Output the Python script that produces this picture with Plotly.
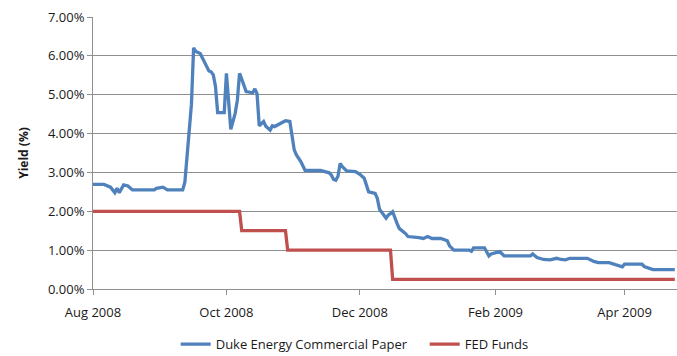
import plotly.graph_objects as go

# ---------------- data ----------------
duke_dates = [
    "2008-08-01", "2008-08-06", "2008-08-09", "2008-08-11", "2008-08-12", "2008-08-13",
    "2008-08-15", "2008-08-17", "2008-08-19", "2008-08-29", "2008-08-30", "2008-09-02",
    "2008-09-04", "2008-09-11", "2008-09-12", "2008-09-14", "2008-09-15", "2008-09-16",
    "2008-09-17", "2008-09-19", "2008-09-21", "2008-09-23", "2008-09-24", "2008-09-25",
    "2008-09-26", "2008-09-27", "2008-09-30", "2008-10-01", "2008-10-03", "2008-10-05",
    "2008-10-06", "2008-10-07", "2008-10-08", "2008-10-10", "2008-10-13", "2008-10-14",
    "2008-10-15", "2008-10-16", "2008-10-18", "2008-10-19", "2008-10-21", "2008-10-22",
    "2008-10-23", "2008-10-25", "2008-10-28", "2008-10-30", "2008-11-01", "2008-11-02",
    "2008-11-04", "2008-11-06", "2008-11-13", "2008-11-17", "2008-11-18", "2008-11-19",
    "2008-11-20", "2008-11-21", "2008-11-22", "2008-11-23", "2008-11-25", "2008-11-29",
    "2008-12-01", "2008-12-03", "2008-12-04", "2008-12-05", "2008-12-08", "2008-12-09",
    "2008-12-10", "2008-12-11", "2008-12-13", "2008-12-14", "2008-12-16", "2008-12-18",
    "2008-12-19", "2008-12-22", "2008-12-23", "2008-12-28", "2008-12-30", "2009-01-01",
    "2009-01-03", "2009-01-07", "2009-01-10", "2009-01-11", "2009-01-13", "2009-01-20",
    "2009-01-21", "2009-01-22", "2009-01-27", "2009-01-29", "2009-01-30", "2009-02-03",
    "2009-02-05", "2009-02-17", "2009-02-18", "2009-02-20", "2009-02-23", "2009-02-26",
    "2009-03-01", "2009-03-03", "2009-03-05", "2009-03-07", "2009-03-15", "2009-03-18",
    "2009-03-20", "2009-03-25", "2009-03-31", "2009-04-01", "2009-04-09", "2009-04-10",
    "2009-04-14", "2009-04-24",
]
duke_yield = [
    2.69, 2.69, 2.62, 2.48, 2.59, 2.48,
    2.68, 2.65, 2.55, 2.55, 2.59, 2.62,
    2.55, 2.55, 2.75, 4.00, 4.75, 6.21,
    6.11, 6.06, 5.85, 5.61, 5.59, 5.51,
    5.21, 4.54, 4.54, 5.55, 4.11, 4.52,
    4.86, 5.55, 5.40, 5.08, 5.05, 5.15,
    5.03, 4.20, 4.31, 4.19, 4.09, 4.20,
    4.18, 4.25, 4.33, 4.31, 3.58, 3.45,
    3.28, 3.05, 3.05, 2.99, 2.93, 2.82,
    2.80, 2.90, 3.23, 3.15, 3.04, 3.02,
    2.95, 2.85, 2.68, 2.50, 2.46, 2.33,
    2.05, 1.96, 1.82, 1.90, 1.99, 1.69,
    1.56, 1.42, 1.35, 1.32, 1.30, 1.35,
    1.30, 1.30, 1.24, 1.11, 1.00, 1.00,
    0.97, 1.06, 1.06, 0.85, 0.90, 0.96,
    0.85, 0.85, 0.90, 0.81, 0.76, 0.75,
    0.79, 0.76, 0.75, 0.79, 0.79, 0.71,
    0.68, 0.68, 0.57, 0.64, 0.64, 0.58,
    0.50, 0.50,
]

fed_dates = ["2008-08-01", "2008-10-07", "2008-10-08", "2008-10-28", "2008-10-29",
             "2008-12-15", "2008-12-16", "2009-04-24"]
fed_rate = [2.00, 2.00, 1.50, 1.50, 1.00, 1.00, 0.25, 0.25]

x_tick_dates = ["2008-08-01", "2008-10-01", "2008-12-01", "2009-02-01", "2009-04-01"]
x_tick_labels = ["Aug 2008", "Oct 2008", "Dec 2008", "Feb 2009", "Apr 2009"]
y_tick_values = [0, 1, 2, 3, 4, 5, 6, 7]
y_tick_labels = ["0.00%", "1.00%", "2.00%", "3.00%", "4.00%", "5.00%", "6.00%", "7.00%"]

series_names = ["Duke Energy Commercial Paper", "FED Funds"]

# ---------------- figure ----------------
FONT = "Open Sans, Liberation Sans, Arial, sans-serif"
GRID = "#8f8f8f"
TXT = "#1a1a1a"

fig = go.Figure()
fig.add_trace(go.Scatter(
    x=duke_dates, y=duke_yield, mode="lines", name=series_names[0],
    line=dict(color="#4F81BD", width=3.3),
))
fig.add_trace(go.Scatter(
    x=fed_dates, y=fed_rate, mode="lines", name=series_names[1],
    line=dict(color="#C0504D", width=3.3),
))

fig.update_layout(
    width=677, height=356,
    margin=dict(l=93, r=0, t=17, b=67, autoexpand=False),
    paper_bgcolor="white", plot_bgcolor="white",
    font=dict(family=FONT, size=13, color=TXT),
    showlegend=True,
    legend=dict(
        orientation="h", x=0.1416, xanchor="left", y=-0.148, yanchor="top",
        entrywidth=204, entrywidthmode="pixels",
        font=dict(family=FONT, size=13, color=TXT),
        bgcolor="rgba(0,0,0,0)",
    ),
)

fig.update_xaxes(
    type="date",
    range=["2008-08-01", "2009-04-25"],
    tickvals=x_tick_dates, ticktext=x_tick_labels,
    ticks="outside", ticklen=5, tickcolor=GRID, tickwidth=1,
    showline=True, linecolor=GRID, linewidth=1,
    showgrid=False, zeroline=False,
    ticklabelstandoff=6,
    tickfont=dict(family=FONT, size=13, color=TXT),
)
fig.update_yaxes(
    range=[0, 7],
    tickvals=y_tick_values, ticktext=y_tick_labels,
    ticks="outside", ticklen=5, tickcolor=GRID, tickwidth=1,
    showline=True, linecolor=GRID, linewidth=1,
    showgrid=True, gridcolor=GRID, gridwidth=1,
    zeroline=False,
    tickfont=dict(family=FONT, size=13, color=TXT),
    title=dict(text="Yield (%)", font=dict(family=FONT, size=12, color=TXT, weight="bold"),
               standoff=16),
)

fig.write_html(
    "out.html",
    config={"displayModeBar": False},
    post_script="document.body.style.margin='0';document.body.style.overflow='hidden';",
)
